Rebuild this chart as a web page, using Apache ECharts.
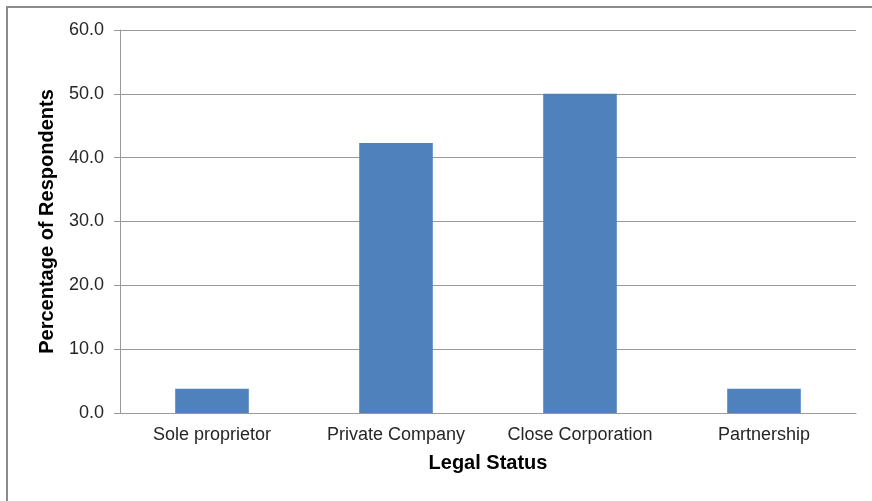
<!DOCTYPE html>
<html>
<head>
<meta charset="utf-8">
<title>Legal Status</title>
<script src="https://cdn.jsdelivr.net/npm/echarts@6/dist/echarts.min.js"></script>
<style>
	html, body { margin: 0; padding: 0; background: #fff; }
	#chart { width: 872px; height: 501px; }
</style>
</head>
<body>
<div id="chart"></div>
<script>
// categories and values (percent of respondents)
var categories = ['Sole proprietor', 'Private Company', 'Close Corporation', 'Partnership'];
var percentages = [3.8, 42.3, 50.0, 3.8];
var yTicks = { min: 0, max: 60, interval: 10 };

var chart = echarts.init(document.getElementById('chart'));

var option = {
	animation: false,
	backgroundColor: '#fff',
	textStyle: { fontFamily: 'Liberation Sans, Arial, sans-serif' },
	graphic: [{
		type: 'rect',
		shape: { x: 7, y: 7, width: 1000, height: 1000 },
		style: { fill: 'none', stroke: '#8c8c8c', lineWidth: 2 },
		silent: true
	}],
	grid: { left: 120, right: 16, top: 30, bottom: 88 },
	xAxis: {
		type: 'category',
		data: categories,
		name: 'Legal Status',
		nameLocation: 'middle',
		nameGap: 40,
		nameTextStyle: { fontSize: 20, fontWeight: 'bold', color: '#000' },
		axisLine: { lineStyle: { color: '#999', width: 1 } },
		axisTick: { show: false },
		axisLabel: { fontSize: 18, color: '#262626', margin: 13, interval: 0, hideOverlap: false }
	},
	yAxis: {
		type: 'value',
		min: yTicks.min,
		max: yTicks.max,
		interval: yTicks.interval,
		name: 'Percentage of Respondents',
		nameLocation: 'middle',
		nameGap: 63,
		nameTextStyle: { fontSize: 20, fontWeight: 'bold', color: '#000' },
		axisLine: { show: true, lineStyle: { color: '#999', width: 1 } },
		axisTick: { show: true, length: 6, lineStyle: { color: '#999' } },
		axisLabel: {
			fontSize: 18, color: '#262626', margin: 16,
			formatter: function (v) { return v.toFixed(1); }
		},
		splitLine: { lineStyle: { color: '#999', width: 1 } }
	},
	series: [{
		type: 'bar',
		data: percentages,
		barWidth: '40%',
		itemStyle: { color: '#4f81bd' },
		silent: true
	}]
};

chart.setOption(option);
</script>
</body>
</html>
